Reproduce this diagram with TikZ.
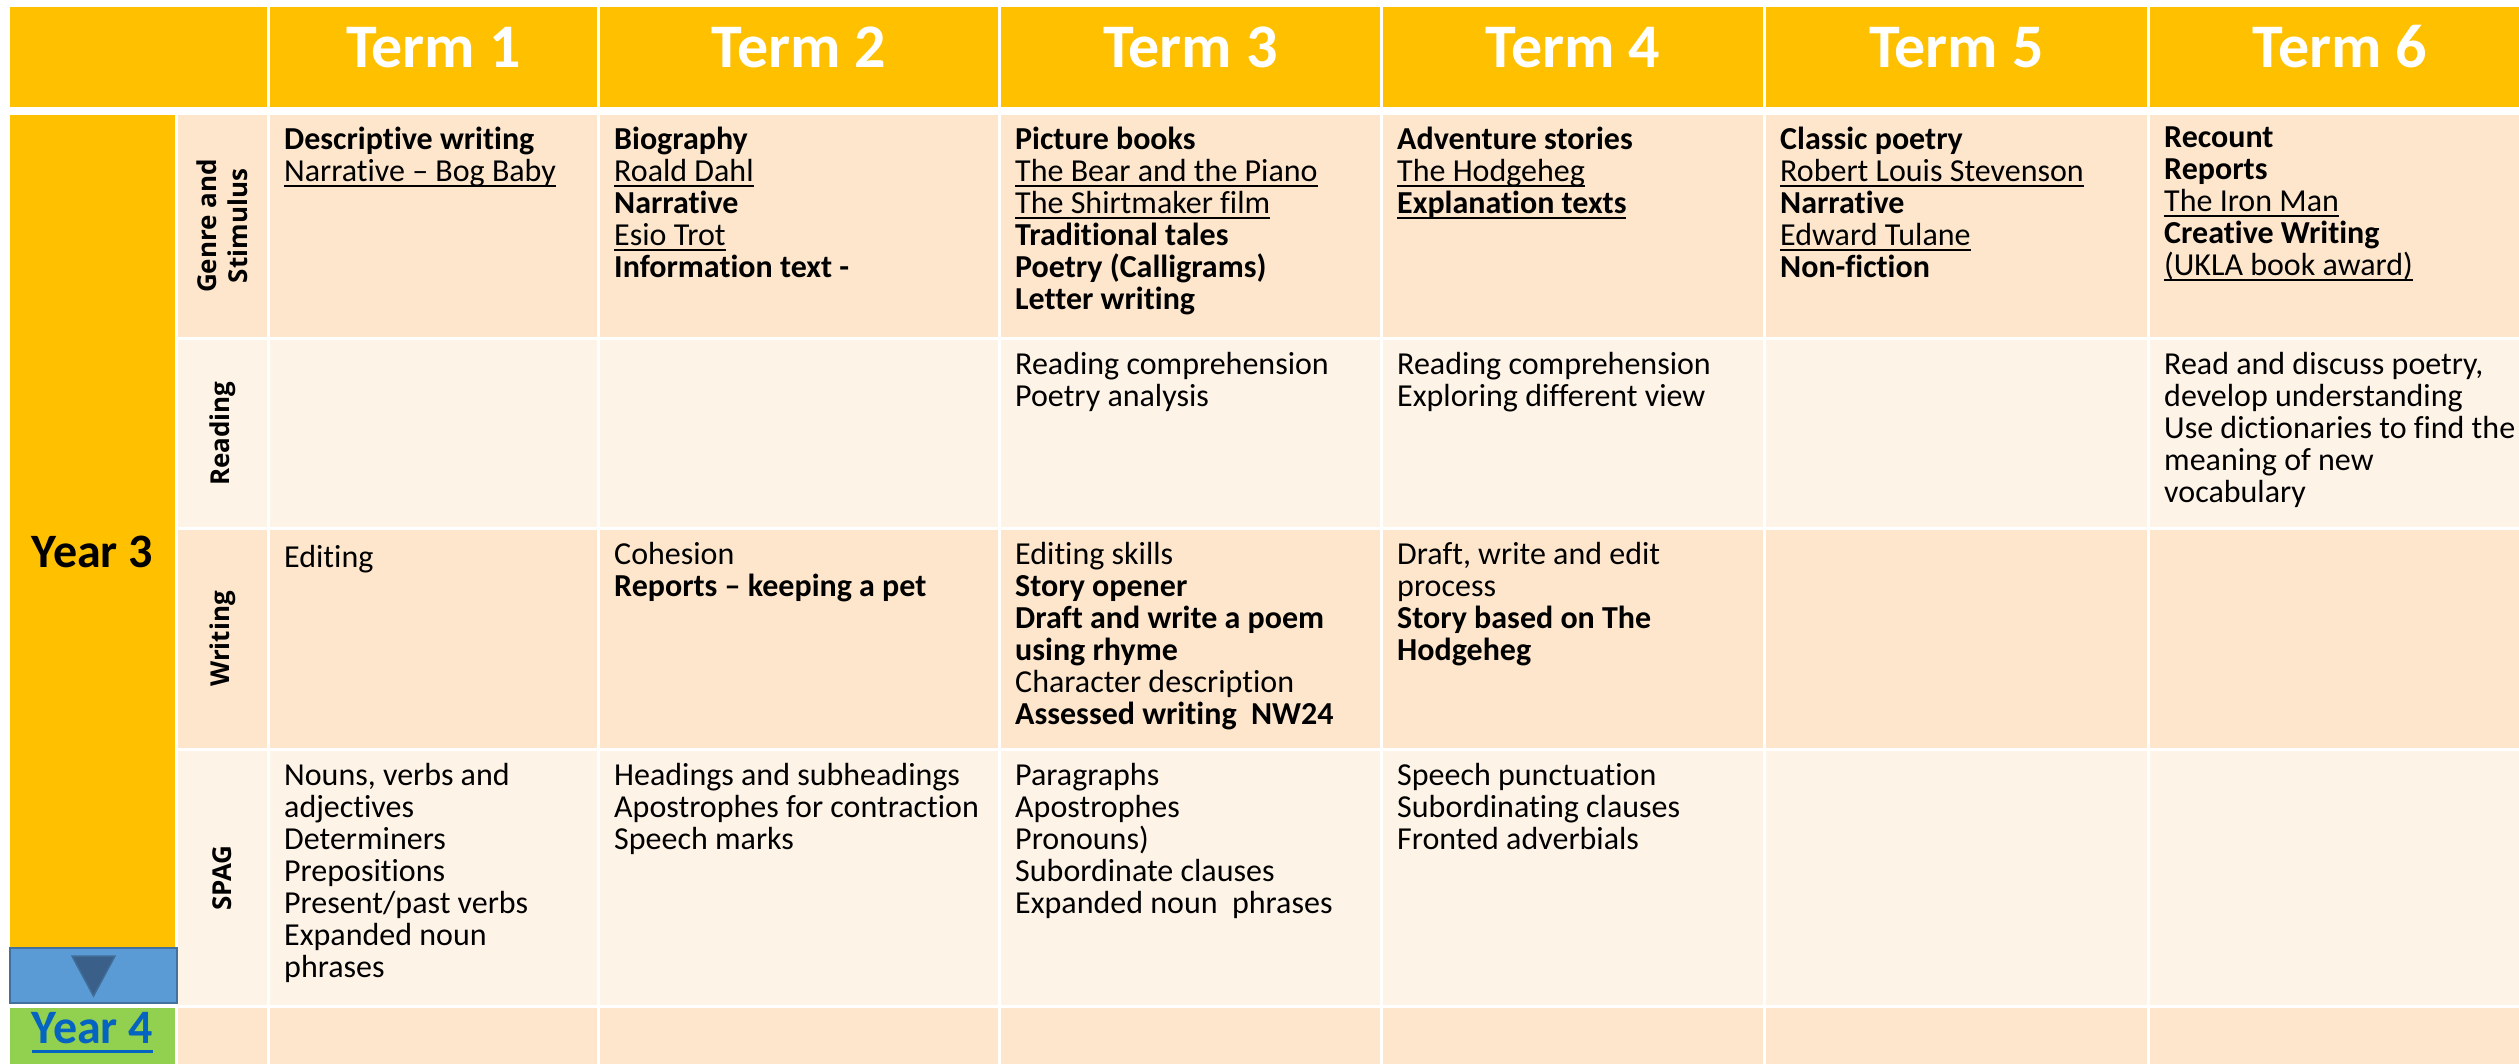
\documentclass[tikz,border=0pt]{standalone}
\usepackage{fontspec}
\setmainfont{Carlito}[Ligatures={TeX,NoCommon,NoContextual},Contextuals=NoAlternate]
\newfontfamily\sidefam{Open Sans}
\usetikzlibrary{positioning}

\definecolor{gold}{HTML}{FFC000}
\definecolor{peachA}{HTML}{FDE6CC}
\definecolor{peachB}{HTML}{FEF3E7}
\definecolor{navblue}{HTML}{5B9BD5}
\definecolor{navedge}{HTML}{41719C}
\definecolor{navtri}{HTML}{3A5F88}
\definecolor{leaf}{HTML}{92D050}
\definecolor{linkblue}{HTML}{0563C1}

\newcommand{\cellfont}{\fontsize{32}{32}\selectfont}
\newcommand{\headfont}{\fontsize{62}{62}\selectfont\bfseries}
\newcommand{\yearfont}{\fontsize{48}{48}\selectfont\bfseries}
\newcommand{\sidelabelfont}{\sidefam\bfseries\fontsize{26}{31}\selectfont}
\newcommand{\topstrut}{\rule{0pt}{25pt}}
\newcommand{\lnk}[1]{\setbox0\hbox{#1}\rlap{\rule[-5.5pt]{\wd0}{2.2pt}}\box0}
\newcommand{\biglnk}[1]{\setbox0\hbox{#1}\rlap{\rule[-9.5pt]{\wd0}{3pt}}\box0}

\begin{document}
\begin{tikzpicture}[x=1pt,y=-1pt,
    box/.style={rectangle, inner sep=0pt, outer sep=0pt, minimum width=#1},
    hdr/.style={box=#1, minimum height=100pt, fill=gold, text=white, font=\headfont,
                text height=40pt, text depth=20pt},
    txt/.style={anchor=north west, align=left, inner sep=0pt, font=\cellfont,
                execute at begin node=\topstrut},
    side/.style={rotate=90, align=center, inner sep=0pt, font=\sidelabelfont}]

\clip (0,0) rectangle (2519,1063);
\fill[white] (0,0) rectangle (2519,1063);

\node[box=257, minimum height=100pt, fill=gold, anchor=north west] (h0) at (10,7) {};
\foreach \cn/\cw [remember=\cn as \pn (initially 0)] in {1/327,2/398,3/379,4/380,5/381,6/380}
    \node[hdr=\cw, right=3pt of h\pn] (h\cn) {Term \cn};

\foreach \rw/\ry/\rh/\rc in {g/115/222/peachA, r/340/187/peachB, w/530/218/peachA, s/751/254/peachB, y/1008/70/peachA}{
    \node[box=89, minimum height=\rh pt, fill=\rc, anchor=north west] (\rw0) at (178,\ry) {};
    \foreach \cn/\cw [remember=\cn as \pn (initially 0)] in {1/327,2/398,3/379,4/380,5/381,6/380}
        \node[box=\cw, minimum height=\rh pt, fill=\rc, right=3pt of \rw\pn] (\rw\cn) {};
}

\node[box=165, minimum height=833pt, fill=gold, anchor=north west] (yr3) at (10,115) {};
\node[anchor=base, inner sep=0pt, font=\yearfont] (yr3txt) at (92.5,567) {Year 3};
\node[box=167, minimum height=55pt, fill=navblue, draw=navedge, line width=2.5pt, anchor=north west] (nav) at (10,948) {};
\filldraw[fill=navtri, draw=navedge!80!navtri, line width=1.5pt]
    ([xshift=-21.5pt,yshift=-8pt]nav.north) -- ([xshift=21.5pt,yshift=-8pt]nav.north)
    -- ([yshift=-48pt]nav.north) -- cycle;
\node[box=165, minimum height=70pt, fill=leaf, anchor=north west] (yr4) at (10,1008) {};
\node[anchor=base, inner sep=0pt, font=\yearfont, text=linkblue] (yr4txt) at (92.5,1043) {\biglnk{Year 4}};

\node[side] (lg) at (g0.center) {Genre and\\Stimulus};
\node[side] (lr) at (r0.center) {Reading};
\node[side] (lw) at (w0.center) {Writing};
\node[side] (ls) at (s0.center) {SPAG};

\node[txt] (tg1) at ([xshift=14pt,yshift=-12pt]g1.north west)
    {\textbf{Descriptive writing}\\\lnk{Narrative – Bog Baby}};
\node[txt] (tg2) at ([xshift=14pt,yshift=-12pt]g2.north west)
    {\textbf{Biography}\\\lnk{Roald Dahl}\\\textbf{Narrative}\\\lnk{Esio Trot}\\\textbf{Information text -}};
\node[txt] (tg3) at ([xshift=14pt,yshift=-12pt]g3.north west)
    {\textbf{Picture books}\\\lnk{The Bear and the Piano}\\\lnk{The Shirtmaker film}\\
     \textbf{Traditional tales}\\\textbf{Poetry (Calligrams)}\\\textbf{Letter writing}};
\node[txt] (tg4) at ([xshift=14pt,yshift=-12pt]g4.north west)
    {\textbf{Adventure stories}\\\lnk{The Hodgeheg}\\\lnk{\textbf{Explanation texts}}};
\node[txt] (tg5) at ([xshift=14pt,yshift=-12pt]g5.north west)
    {\textbf{Classic poetry}\\\lnk{Robert Louis Stevenson}\\\textbf{Narrative}\\\lnk{Edward Tulane}\\\textbf{Non-fiction}};
\node[txt] (tg6) at ([xshift=14pt,yshift=-12pt]g6.north west)
    {\textbf{Recount}\\\textbf{Reports}\\\lnk{The Iron Man}\\\textbf{Creative Writing}\\\lnk{(UKLA book award)}};

\node[txt] (tr3) at ([xshift=14pt,yshift=-12pt]r3.north west)
    {Reading comprehension\\Poetry analysis};
\node[txt] (tr4) at ([xshift=14pt,yshift=-12pt]r4.north west)
    {Reading comprehension\\Exploring different view};
\node[txt] (tr6) at ([xshift=14pt,yshift=-12pt]r6.north west)
    {Read and discuss poetry,\\develop understanding\\Use dictionaries to find the\\meaning of new\\vocabulary};

\node[txt] (tw1) at ([xshift=14pt,yshift=-12pt]w1.north west) {Editing};
\node[txt] (tw2) at ([xshift=14pt,yshift=-12pt]w2.north west)
    {Cohesion\\\textbf{Reports – keeping a pet}};
\node[txt] (tw3) at ([xshift=14pt,yshift=-12pt]w3.north west)
    {Editing skills\\\textbf{Story opener}\\\textbf{Draft and write a poem}\\\textbf{using rhyme}\\
     Character description\\\textbf{Assessed writing\ \ NW24}};
\node[txt] (tw4) at ([xshift=14pt,yshift=-12pt]w4.north west)
    {Draft, write and edit\\process\\\textbf{Story based on The}\\\textbf{Hodgeheg}};

\node[txt] (ts1) at ([xshift=14pt,yshift=-12pt]s1.north west)
    {Nouns, verbs and\\adjectives\\Determiners\\Prepositions\\Present/past verbs\\Expanded noun\\phrases};
\node[txt] (ts2) at ([xshift=14pt,yshift=-12pt]s2.north west)
    {Headings and subheadings\\Apostrophes for contraction\\Speech marks};
\node[txt] (ts3) at ([xshift=14pt,yshift=-12pt]s3.north west)
    {Paragraphs\\Apostrophes\\Pronouns)\\Subordinate clauses\\Expanded noun\ \ phrases};
\node[txt] (ts4) at ([xshift=14pt,yshift=-12pt]s4.north west)
    {Speech punctuation\\Subordinating clauses\\Fronted adverbials};
\end{tikzpicture}
\end{document}
